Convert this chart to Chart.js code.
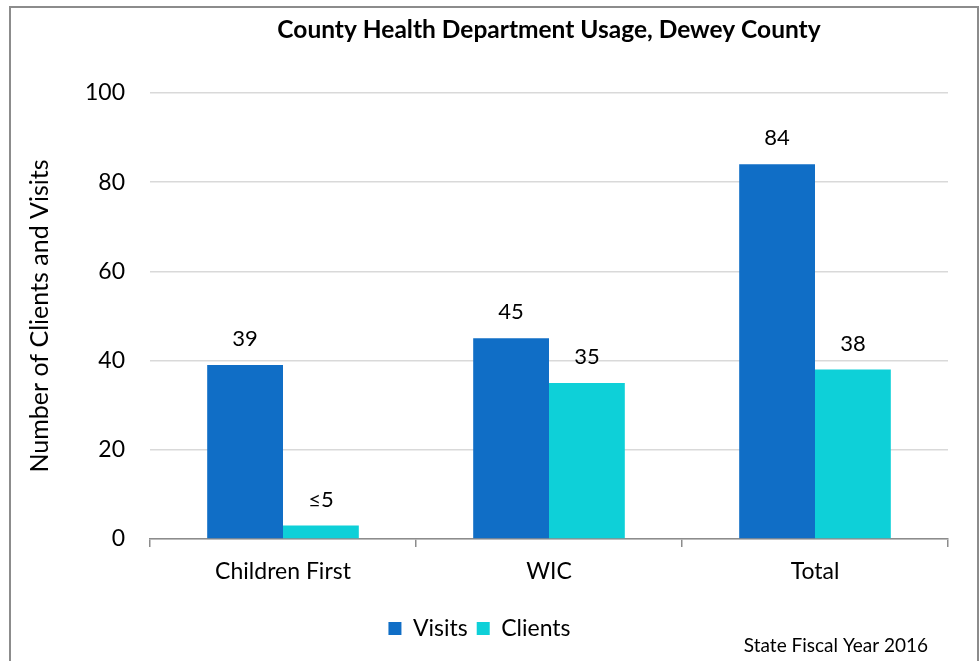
<!DOCTYPE html>
<html>
<head>
<meta charset="utf-8">
<script src="https://cdn.jsdelivr.net/npm/chart.js@4/dist/chart.umd.min.js"></script>
<style>
  html, body { margin: 0; padding: 0; background: #fff; overflow: hidden; }
  #frame {
    position: absolute; left: 9px; top: 6px; width: 966px; height: 700px;
    border: 2px solid #8c8c8c; box-sizing: content-box;
  }
  #wrap { position: absolute; left: 0; top: 0; width: 966px; height: 653px; }
</style>
</head>
<body>
<div id="frame"><div id="wrap"><canvas id="usageChart"></canvas></div></div>
<script>
// Categories and series
var categories = ['Children First', 'WIC', 'Total'];
var visitsData = [39, 45, 84];
var clientsData = [3, 35, 38];
// What the labels above the bars say (small counts are suppressed)
var visitsLabels = ['39', '45', '84'];
var clientsLabels = ['\u22645', '35', '38'];
var yTicks = [0, 20, 40, 60, 80, 100];

var FONT = 'Lato, "Open Sans", sans-serif';

// Title centred over the plot area, plus value labels above each bar
var barLabels = {
    id: 'barLabels',
    afterDatasetsDraw: function (chart) {
        var ctx = chart.ctx;
        var area = chart.chartArea;
        var allLabels = [visitsLabels, clientsLabels];
        ctx.save();
        ctx.fillStyle = '#000';
        ctx.textAlign = 'center';
        ctx.textBaseline = 'middle';
        ctx.font = 'bold 24.5px ' + FONT;
        ctx.fillText('County Health Department Usage, Dewey County', (area.left + area.right) / 2, 22);
        ctx.font = '22px ' + FONT;
        chart.data.datasets.forEach(function (ds, i) {
            chart.getDatasetMeta(i).data.forEach(function (bar, j) {
                ctx.fillText(allLabels[i][j], bar.x, bar.y - 26);
            });
        });
        ctx.restore();
    }
};

// Source note in the bottom right corner
var footNote = {
    id: 'footNote',
    afterDraw: function (chart) {
        var ctx = chart.ctx;
        ctx.save();
        ctx.font = '19px ' + FONT;
        ctx.fillStyle = '#000';
        ctx.textAlign = 'right';
        ctx.textBaseline = 'middle';
        ctx.fillText('State Fiscal Year 2016', 917, 638);
        ctx.restore();
    }
};

var usageCtx = document.getElementById('usageChart').getContext('2d');
var usageChart = new Chart(usageCtx, {
    type: 'bar',
    data: {
        labels: categories,
        datasets: [{
            label: 'Visits',
            data: visitsData,
            backgroundColor: '#106ec6',
            categoryPercentage: 0.57,
            barPercentage: 1
        }, {
            label: 'Clients',
            data: clientsData,
            backgroundColor: '#0ed0d8',
            categoryPercentage: 0.57,
            barPercentage: 1
        }]
    },
    options: {
        responsive: true,
        maintainAspectRatio: false,
        animation: false,
        layout: { padding: { top: 85, right: 29, bottom: 11, left: 0 } },
        plugins: {
            title: { display: false },
            legend: {
                position: 'bottom',
                labels: {
                    color: '#000',
                    font: { family: FONT, size: 23 },
                    boxWidth: 13,
                    boxHeight: 13,
                    padding: 9
                }
            },
            tooltip: { enabled: false }
        },
        scales: {
            x: {
                grid: {
                    drawOnChartArea: false,
                    drawTicks: true,
                    tickLength: 8,
                    color: '#8c8c8c',
                    lineWidth: 1.5
                },
                border: { color: '#8c8c8c', width: 1.5 },
                ticks: { color: '#000', font: { family: FONT, size: 23 }, padding: 11 },
                afterFit: function (s) { s.height = 69; }
            },
            y: {
                min: 0,
                max: 100,
                afterBuildTicks: function (s) {
                    s.ticks = yTicks.map(function (v) { return { value: v }; });
                },
                grid: { color: '#d9d9d9', lineWidth: 1.5, drawTicks: false },
                border: { display: false },
                ticks: { color: '#000', font: { family: FONT, size: 23 }, padding: 25 },
                title: {
                    display: true,
                    text: 'Number of Clients and Visits',
                    color: '#000',
                    font: { family: FONT, size: 25 },
                    padding: 14
                },
                afterFit: function (s) { s.width = 139; }
            }
        }
    },
    plugins: [barLabels, footNote]
});
</script>
</body>
</html>
